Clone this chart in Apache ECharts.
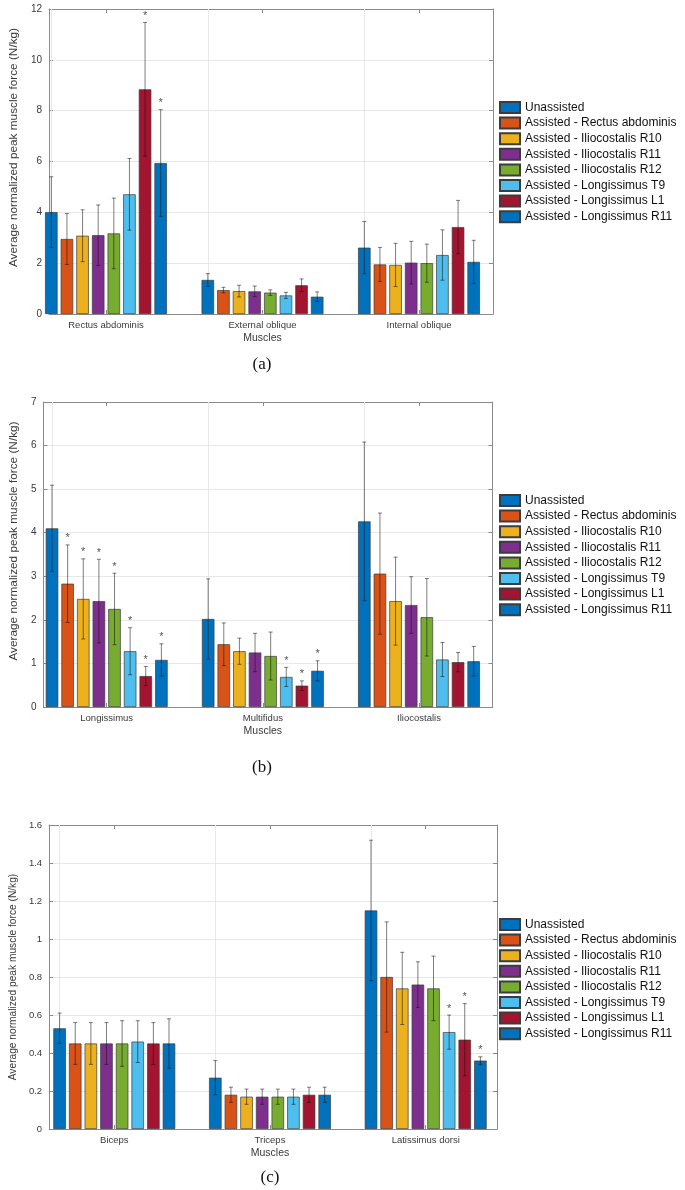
<!DOCTYPE html>
<html><head><meta charset="utf-8">
<script src="https://cdn.jsdelivr.net/npm/echarts@6/dist/echarts.min.js"></script>
<style>html,body{margin:0;padding:0;background:#fff}#c{width:685px;height:1190px}</style>
</head><body><div id="c"></div>
<script>
// ---------------- DATA ----------------
const seriesNames = ['Unassisted','Assisted - Rectus abdominis','Assisted - Iliocostalis R10','Assisted - Iliocostalis R11','Assisted - Iliocostalis R12','Assisted - Longissimus T9','Assisted - Longissimus L1','Assisted - Longissimus R11'];
const seriesColors = ['#0072BD','#D95319','#EDB120','#7E2F8E','#77AC30','#4DBEEE','#A2142F','#0072BD'];

// panel (a)
const catsA = ['Rectus abdominis','External oblique','Internal oblique'];
const meanA = [[4.01,1.34,2.61],[2.95,0.94,1.95],[3.08,0.90,1.93],[3.10,0.89,2.02],[3.17,0.84,2.00],[4.71,0.73,2.32],[8.84,1.13,3.42],[5.94,0.68,2.05]];
const sdA   = [[1.39,0.25,1.03],[1.00,0.11,0.67],[1.02,0.23,0.85],[1.19,0.21,0.84],[1.39,0.11,0.75],[1.41,0.12,0.99],[2.63,0.25,1.05],[2.10,0.19,0.85]];
const sigA  = [[0,0,0],[0,0,0],[0,0,0],[0,0,0],[0,0,0],[0,0,0],[1,0,0],[1,0,0]];
const yAxisA = {min:0, max:12, interval:2};

// panel (b)
const catsB = ['Longissimus','Multifidus','Iliocostalis'];
const meanB = [[4.10,2.02,4.26],[2.83,1.44,3.06],[2.48,1.28,2.43],[2.43,1.25,2.34],[2.25,1.17,2.06],[1.28,0.69,1.09],[0.71,0.49,1.03],[1.08,0.83,1.05]];
const sdB   = [[0.99,0.92,1.82],[0.89,0.49,1.39],[0.92,0.30,1.01],[0.96,0.44,0.65],[0.82,0.55,0.89],[0.54,0.22,0.39],[0.22,0.11,0.22],[0.37,0.23,0.34]];
const sigB  = [[0,0,0],[1,0,0],[1,0,0],[1,0,0],[1,0,0],[1,1,0],[1,1,0],[1,1,0]];
const yAxisB = {min:0, max:7, interval:1};

// panel (c)
const catsC = ['Biceps','Triceps','Latissimus dorsi'];
const meanC = [[0.53,0.27,1.15],[0.45,0.18,0.80],[0.45,0.17,0.74],[0.45,0.17,0.76],[0.45,0.17,0.74],[0.46,0.17,0.51],[0.45,0.18,0.47],[0.45,0.18,0.36]];
const sdC   = [[0.08,0.09,0.37],[0.11,0.04,0.29],[0.11,0.04,0.19],[0.11,0.04,0.12],[0.12,0.04,0.17],[0.11,0.04,0.09],[0.11,0.04,0.19],[0.13,0.04,0.02]];
const sigC  = [[0,0,0],[0,0,0],[0,0,0],[0,0,0],[0,0,0],[0,0,1],[0,0,1],[0,0,1]];
const yAxisC = {min:0, max:1.6, interval:0.2};

const yName = 'Average normalized peak muscle force (N/kg)';
const xName = 'Muscles';
const captions = ['(a)','(b)','(c)'];

// ---------------- LAYOUT ----------------
const panels = [
  {cats:catsA, mean:meanA, sd:sdA, sig:sigA, y:yAxisA, l:34, r:493, t:9, b:314, c1:106, c3:419, legTop:101, capX:262, capY:365, yLab:10, yNameSize:11.8, yNameGap:16, yNameShift:28},
  {cats:catsB, mean:meanB, sd:sdB, sig:sigB, y:yAxisB, l:33.5, r:492.5, t:402, b:707, c1:106.7, c3:419, legTop:494, capX:262, capY:768, yLab:10, yNameSize:11.8, yNameGap:16, yNameShift:27},
  {cats:catsC, mean:meanC, sd:sdC, sig:sigC, y:yAxisC, l:41.5, r:497, t:825, b:1129, c1:114.3, c3:425.7, legTop:918, capX:270, capY:1178, yLab:9.5, yNameSize:10.2, yNameGap:19, yNameShift:0}
];

const AX = '#8a8a8a', GRIDC = '#e8e8e8', TXT = '#3a3a3a';
const FONT = 'Liberation Sans, Arial, sans-serif';
const BAR_W = 12.5, BAR_GAP = '25%';

const option = {animation:false, backgroundColor:'#fff', grid:[], xAxis:[], yAxis:[], series:[], legend:[], graphic:[]};

panels.forEach((p, k) => {
  const g0 = option.grid.length;
  const h = p.b - p.t;
  const s = (p.c3 - p.c1) / 2;
  option.grid.push({left:p.l, top:p.t, width:p.r - p.l, height:h});
  option.grid.push({left:p.c1 - s/2, top:p.t, width:3*s, height:h});
  const xi = option.xAxis.length, yi = option.yAxis.length;
  const frameX = pos => ({gridIndex:g0, type:'value', min:0, max:1, position:pos,
    axisLine:{show:true, onZero:false, lineStyle:{color:AX, width:1}}, axisTick:{show:false}, axisLabel:{show:false}, splitLine:{show:false}});
  option.xAxis.push(frameX('bottom'), frameX('top'));
  option.xAxis.push({gridIndex:g0+1, type:'category', data:p.cats, position:'bottom',
    axisLine:{show:false, onZero:false}, axisTick:{show:true, inside:true, alignWithLabel:true, length:4, lineStyle:{color:AX}},
    axisLabel:{color:TXT, fontSize:9.5, fontFamily:FONT, margin:6},
    name:xName, nameLocation:'middle', nameGap:19, nameTextStyle:{color:TXT, fontSize:10.5, fontFamily:FONT},
    splitLine:{show:false}});
  option.xAxis.push({gridIndex:g0+1, type:'category', data:p.cats, position:'top',
    axisLine:{show:false, onZero:false}, axisTick:{show:true, inside:true, alignWithLabel:true, length:4, lineStyle:{color:AX}},
    axisLabel:{show:false}, splitLine:{show:false}});
  option.yAxis.push({gridIndex:g0, type:'value', min:p.y.min, max:p.y.max, interval:p.y.interval, position:'left',
    axisLine:{show:true, onZero:false, lineStyle:{color:AX}}, axisTick:{show:true, inside:true, length:4, lineStyle:{color:AX}},
    axisLabel:{color:TXT, fontSize:p.yLab, fontFamily:FONT, margin:7},
    splitLine:{show:true, lineStyle:{color:GRIDC, width:1}},
    name:yName, nameLocation:'middle', nameGap:p.yNameGap,
    nameTextStyle:{color:TXT, fontSize:p.yNameSize, fontFamily:FONT, padding:[0,0,0,p.yNameShift]}});
  option.yAxis.push({gridIndex:g0, type:'value', min:p.y.min, max:p.y.max, interval:p.y.interval, position:'right',
    axisLine:{show:true, onZero:false, lineStyle:{color:AX}}, axisTick:{show:true, inside:true, length:4, lineStyle:{color:AX}},
    axisLabel:{show:false}, splitLine:{show:false}});
  option.yAxis.push({gridIndex:g0+1, type:'value', min:p.y.min, max:p.y.max, show:false});

  const bx = xi + 2, by = yi + 2;
  seriesNames.forEach((nm, si) => {
    const ser = {type:'bar', name:nm, xAxisIndex:bx, yAxisIndex:by, data:p.mean[si],
      barWidth:BAR_W, barGap:BAR_GAP, z:3,
      itemStyle:{color:seriesColors[si], borderColor:'#3c3c3c', borderWidth:0.7}};
    if (si === 0) {
      ser.markLine = {silent:true, symbol:'none', z:1, label:{show:false},
        lineStyle:{color:GRIDC, type:'solid', width:1},
        data:p.cats.map(c => ({xAxis:c}))};
    }
    option.series.push(ser);
  });

  const errData = [];
  p.mean.forEach((row, si) => row.forEach((m, ci) => errData.push([ci, m, p.sd[si][ci], si, p.sig[si][ci]])));
  option.series.push({type:'custom', xAxisIndex:bx, yAxisIndex:by, data:errData, z:10, silent:true,
    encode:{x:0, y:1},
    renderItem:(params, api) => {
      const ci = api.value(0), m = api.value(1), sd = api.value(2), si = api.value(3), sig = api.value(4);
      const lay = api.barLayout({count:8, barWidth:BAR_W, barGap:BAR_GAP});
      const x = api.coord([ci, m])[0] + lay[si].offsetCenter;
      const yt = api.coord([ci, m + sd])[1], yb = api.coord([ci, m - sd])[1];
      const st = {stroke:'rgba(20,20,20,0.55)', lineWidth:1};
      const ch = [
        {type:'line', shape:{x1:x, y1:yt, x2:x, y2:yb}, style:st},
        {type:'line', shape:{x1:x-2, y1:yt, x2:x+2, y2:yt}, style:st},
        {type:'line', shape:{x1:x-2, y1:yb, x2:x+2, y2:yb}, style:st}
      ];
      if (sig) ch.push({type:'text', x:x, y:yt - 1, style:{text:'*', fill:'#555', font:'11px Liberation Sans, Arial, sans-serif', textAlign:'center', textVerticalAlign:'bottom'}});
      return {type:'group', children:ch};
    }});

  option.legend.push({data:seriesNames, orient:'vertical', left:499, top:p.legTop, padding:0,
    itemWidth:20, itemHeight:11, itemGap:2.6, icon:'rect',
    textStyle:{color:'#111', fontSize:12, fontFamily:FONT, lineHeight:13}});

  option.graphic.push({type:'text', x:p.capX, y:p.capY, silent:true,
    style:{text:captions[k], fill:'#111', font:'17px Liberation Serif, Times New Roman, serif', textAlign:'center', textVerticalAlign:'middle'}});
});

const chart = echarts.init(document.getElementById('c'), null, {renderer:'canvas'});
chart.setOption(option);
</script></body></html>
